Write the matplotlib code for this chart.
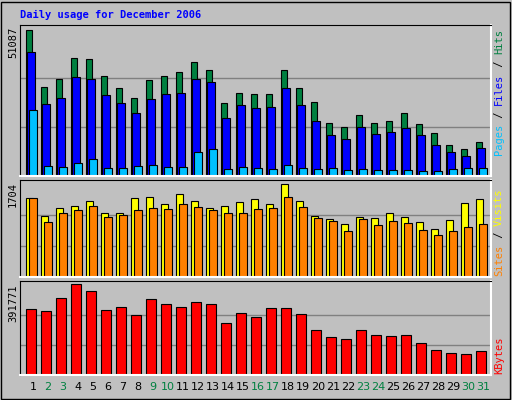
import matplotlib
matplotlib.use("Agg")
import matplotlib.pyplot as plt
import numpy as np

days = list(range(1, 32))
weekend = [2, 3, 9, 10, 16, 17, 23, 24, 30, 31]
hits = [51087, 30883, 33669, 41332, 40984, 34714, 30535, 27052, 33321, 34714, 36108, 39591, 36805, 25310, 28793,
        28445, 28445, 36805, 30535, 25659, 18344, 16951, 21131, 18344, 19041, 21827, 17996, 14861, 10681, 9288, 11726]
files = [43424, 24962, 27052, 34366, 33669, 28097, 25310, 21827, 26704, 28445, 28793, 33669, 32625, 20086, 24614,
         23569, 23918, 30535, 24614, 19041, 14164, 12771, 16951, 14513, 15210, 16603, 14164, 10681, 8243, 6850, 9636]
pages = [22872, 3367, 3019, 4412, 5805, 2670, 2670, 3367, 3715, 3019, 3019, 8243, 9288, 2322, 3019,
         2670, 2322, 3715, 2670, 2322, 2670, 1974, 2322, 1974, 1974, 1974, 1625, 1625, 2322, 2670, 2670]
visits = [1445, 1130, 1260, 1297, 1389, 1167, 1185, 1445, 1463, 1334, 1519, 1389, 1260, 1297, 1371,
          1426, 1334, 1704, 1389, 1130, 1074, 982, 1111, 1093, 1185, 1111, 1019, 889, 1056, 1352, 1426]
sites = [1445, 1019, 1185, 1222, 1297, 1111, 1148, 1222, 1260, 1241, 1334, 1278, 1222, 1167, 1167,
         1241, 1260, 1463, 1278, 1093, 1037, 852, 1074, 963, 1037, 1000, 871, 778, 852, 926, 982]
kbytes = [284131, 275520, 331485, 391771, 361620, 279826, 292740, 258300, 327180, 305655, 292740, 314265,
          305655, 223860, 266910, 249690, 288435, 288435, 262605, 193725, 163590, 154980, 193725, 172200,
          167895, 172200, 137760, 107625, 94710, 90405, 103320]

W, H = 512, 400
fig = plt.figure(figsize=(5.12, 4.0), dpi=100, facecolor="#C0C0C0")
mono = "DejaVu Sans Mono"
x = np.array(days, dtype=float)

def px(l, t, r, b):
    return [l / W, 1 - b / H, (r - l) / W, (b - t) / H]

def style(ax, top, scale):
    ax.set_facecolor("#C0C0C0")
    ax.set_xlim(0.133, 31.53)
    ax.set_ylim(0, top * scale)
    for g in (top / 3, 2 * top / 3):
        ax.axhline(g, color="#808080", lw=1, zorder=0)
    ax.set_yticks([])
    ax.tick_params(length=0)
    for s in ("top", "left"):
        ax.spines[s].set_color("black")
    for s in ("bottom", "right"):
        ax.spines[s].set_color("white")
        ax.spines[s].set_linewidth(1.5)

kw = dict(align="edge", edgecolor="black", linewidth=0.8)
ax1 = fig.add_axes(px(20, 25, 491, 176))
style(ax1, max(hits), 1.031)
ax1.bar(x - 0.49, hits, 0.44, color="#008040", **kw)
ax1.bar(x - 0.38, files, 0.49, color="#0000FF", **kw)
ax1.bar(x - 0.25, pages, 0.49, color="#00C0FF", **kw)
ax1.set_xticks([])

ax2 = fig.add_axes(px(20, 180, 491, 277))
style(ax2, max(visits), 1.046)
ax2.bar(x - 0.49, visits, 0.47, color="#FFFF00", **kw)
ax2.bar(x - 0.25, sites, 0.49, color="#FF8000", **kw)
ax2.set_xticks([])

ax3 = fig.add_axes(px(20, 281, 491, 375))
style(ax3, max(kbytes), 1.036)
ax3.bar(x - 0.45, kbytes, 0.67, color="#FF0000", **kw)
ax3.set_xticks(x)
ax3.set_xticklabels([str(d) for d in days], fontsize=8, family="DejaVu Sans")
for lab, d in zip(ax3.get_xticklabels(), days):
    lab.set_color("#008040" if d in weekend else "black")
ax3.tick_params(axis="x", pad=5)

fig.text(20 / W, 1 - 15 / H, "Daily usage for December 2006", color="#0000FF",
         fontweight="bold", family=mono, fontsize=7.5, va="center")

def ylab(txt, top):
    fig.text(13 / W, 1 - top / H, txt, rotation=90, family=mono, fontsize=7.5,
             ha="center", va="top")
ylab(str(max(hits)), 27)
ylab(str(max(visits)), 182)
ylab(str(max(kbytes)), 284)

cw = 6.3
def rlab(pieces, bottom):
    i = 0
    for txt, col in pieces:
        fig.text(499 / W, 1 - (bottom - i * cw) / H, txt, rotation=90, family=mono,
                 fontsize=7.5, color=col, ha="center", va="bottom")
        i += len(txt)

rlab([("Pages", "#00C0FF"), (" / ", "black"), ("Files", "#0000FF"), (" / ", "black"), ("Hits", "#008040")], 155)
rlab([("Sites", "#FF8000"), (" / ", "black"), ("Visits", "#FFFF00")], 276)
rlab([("KBytes", "#FF0000")], 374)

# frame
fig.add_artist(plt.Rectangle((1 / W, 1 / H), 1 - 3 / W, 1 - 3 / H, transform=fig.transFigure,
                             fill=False, edgecolor="black", lw=1))

fig.savefig("out.png", dpi=100, facecolor="#C0C0C0")
